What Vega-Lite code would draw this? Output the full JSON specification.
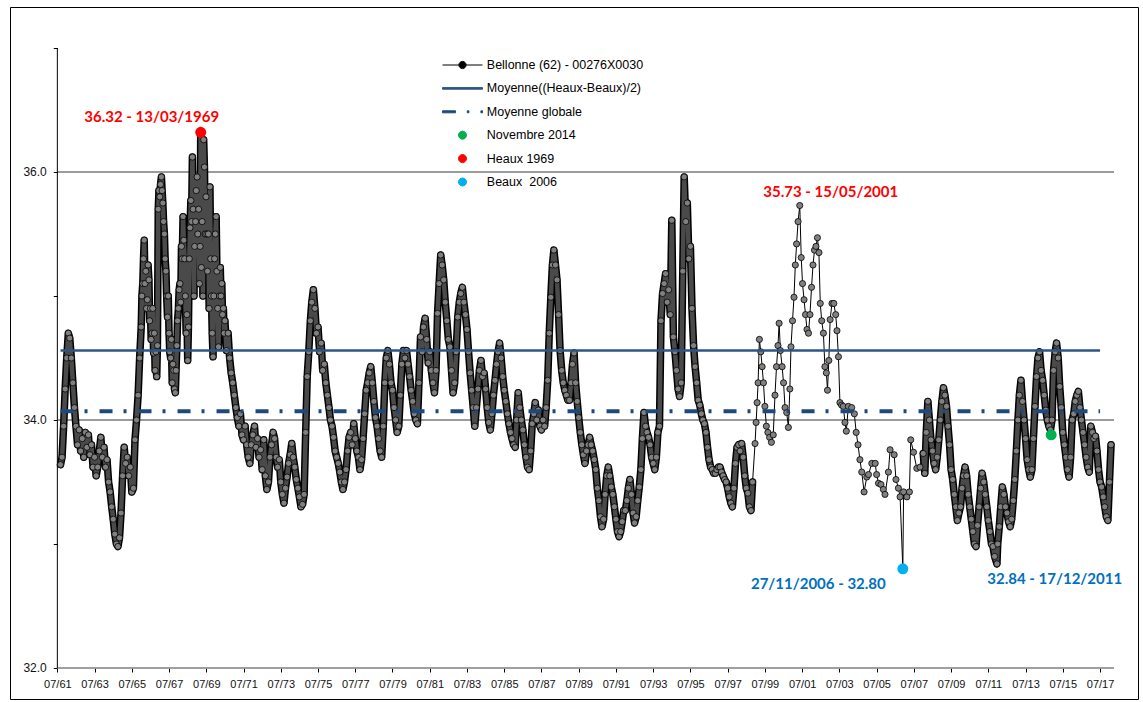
{
"$schema": "https://vega.github.io/schema/vega-lite/v6.json",
"width": 1128, "height": 692,
"autosize": {"type": "none"},
"padding": {"left": 10, "top": 7, "right": 5, "bottom": 3},
"background": "white",
"config": {"view": {"stroke": "#000000", "strokeWidth": 1}, "font": "Liberation Sans"},
"datasets": {
"series": [
{"d":"1961-09","v":33.64},{"d":"1961-10","v":33.70},{"d":"1961-11","v":33.95},{"d":"1961-12","v":34.25},
{"d":"1962-01","v":34.50},{"d":"1962-02","v":34.70},{"d":"1962-03","v":34.66},{"d":"1962-04","v":34.50},{"d":"1962-05","v":34.30},{"d":"1962-06","v":34.10},{"d":"1962-07","v":33.95},{"d":"1962-08","v":33.80},{"d":"1962-09","v":33.92},{"d":"1962-10","v":33.75},{"d":"1962-11","v":33.85},{"d":"1962-12","v":33.70},
{"d":"1963-01","v":33.90},{"d":"1963-02","v":33.78},{"d":"1963-03","v":33.88},{"d":"1963-04","v":33.72},{"d":"1963-05","v":33.80},{"d":"1963-06","v":33.62},{"d":"1963-07","v":33.70},{"d":"1963-08","v":33.55},{"d":"1963-09","v":33.62},{"d":"1963-10","v":33.75},{"d":"1963-11","v":33.86},{"d":"1963-12","v":33.70},
{"d":"1964-01","v":33.78},{"d":"1964-02","v":33.62},{"d":"1964-03","v":33.68},{"d":"1964-04","v":33.50},{"d":"1964-05","v":33.42},{"d":"1964-06","v":33.30},{"d":"1964-07","v":33.20},{"d":"1964-08","v":33.08},{"d":"1964-09","v":33.00},{"d":"1964-10","v":32.98},{"d":"1964-11","v":33.05},{"d":"1964-12","v":33.25},
{"d":"1965-01","v":33.55},{"d":"1965-02","v":33.78},{"d":"1965-03","v":33.65},{"d":"1965-04","v":33.70},{"d":"1965-05","v":33.55},{"d":"1965-06","v":33.62},{"d":"1965-07","v":33.42},{"d":"1965-08","v":33.45},{"d":"1965-09","v":33.84},{"d":"1965-10","v":34.00},{"d":"1965-11","v":34.20},{"d":"1965-12","v":34.50},
{"d":"1966-01-01","v":34.75},{"d":"1966-01-15","v":35.00},{"d":"1966-02-01","v":35.10},{"d":"1966-02-15","v":35.30},{"d":"1966-03-01","v":35.45},{"d":"1966-03-15","v":35.10},{"d":"1966-04-01","v":35.20},{"d":"1966-04-15","v":34.90},{"d":"1966-05-01","v":34.97},{"d":"1966-05-15","v":35.25},{"d":"1966-06-01","v":35.13},{"d":"1966-06-15","v":34.80},{"d":"1966-07-01","v":34.90},{"d":"1966-07-15","v":34.65},{"d":"1966-08-01","v":34.70},{"d":"1966-08-15","v":34.90},{"d":"1966-09-01","v":34.54},{"d":"1966-09-15","v":34.70},{"d":"1966-10-01","v":34.40},{"d":"1966-10-15","v":34.55},{"d":"1966-11-01","v":34.35},{"d":"1966-11-15","v":34.60},{"d":"1966-12-01","v":35.70},{"d":"1966-12-15","v":35.85},
{"d":"1967-01-01","v":35.80},{"d":"1967-01-15","v":35.90},{"d":"1967-02-01","v":35.96},{"d":"1967-02-15","v":35.85},{"d":"1967-03-01","v":35.75},{"d":"1967-03-15","v":35.60},{"d":"1967-04-01","v":35.50},{"d":"1967-04-15","v":35.30},{"d":"1967-05-01","v":35.20},{"d":"1967-05-15","v":35.00},{"d":"1967-06-01","v":34.83},{"d":"1967-06-15","v":35.00},{"d":"1967-07-01","v":34.70},{"d":"1967-07-15","v":34.55},{"d":"1967-08-01","v":34.50},{"d":"1967-08-15","v":34.65},{"d":"1967-09-01","v":34.30},{"d":"1967-09-15","v":34.45},{"d":"1967-10-01","v":34.40},{"d":"1967-10-15","v":34.25},{"d":"1967-11-01","v":34.22},{"d":"1967-11-15","v":34.40},{"d":"1967-12-01","v":34.60},{"d":"1967-12-15","v":34.80},
{"d":"1968-01-01","v":34.90},{"d":"1968-01-15","v":35.05},{"d":"1968-02-01","v":35.10},{"d":"1968-02-15","v":34.95},{"d":"1968-03-01","v":35.40},{"d":"1968-03-15","v":35.30},{"d":"1968-04-01","v":35.64},{"d":"1968-04-15","v":35.45},{"d":"1968-05-01","v":35.30},{"d":"1968-05-15","v":35.00},{"d":"1968-06-01","v":34.70},{"d":"1968-06-15","v":34.85},{"d":"1968-07-01","v":34.48},{"d":"1968-07-15","v":34.75},{"d":"1968-08-01","v":35.30},{"d":"1968-08-15","v":35.55},{"d":"1968-09-01","v":35.77},{"d":"1968-09-15","v":35.60},{"d":"1968-10-01","v":36.12},{"d":"1968-10-15","v":35.70},{"d":"1968-11-01","v":35.00},{"d":"1968-11-15","v":35.40},{"d":"1968-12-01","v":35.60},{"d":"1968-12-15","v":35.85},
{"d":"1969-01-01","v":35.96},{"d":"1969-01-15","v":35.50},{"d":"1969-02-01","v":35.70},{"d":"1969-02-15","v":35.10},{"d":"1969-03-01","v":35.40},{"d":"1969-03-13","v":36.32},{"d":"1969-03-25","v":35.23},{"d":"1969-04-10","v":35.60},{"d":"1969-04-25","v":35.00},{"d":"1969-05-10","v":36.26},{"d":"1969-05-25","v":36.04},{"d":"1969-06-10","v":35.50},{"d":"1969-06-25","v":35.80},{"d":"1969-07-10","v":35.50},{"d":"1969-07-25","v":35.20},{"d":"1969-08-10","v":35.50},{"d":"1969-08-25","v":34.90},{"d":"1969-09-10","v":35.88},{"d":"1969-09-25","v":35.30},{"d":"1969-10-10","v":35.00},{"d":"1969-10-25","v":34.70},{"d":"1969-11-10","v":34.51},{"d":"1969-11-25","v":35.00},{"d":"1969-12-10","v":35.30},{"d":"1969-12-25","v":35.50},
{"d":"1970-01-10","v":35.64},{"d":"1970-01-25","v":35.20},{"d":"1970-02-10","v":34.90},{"d":"1970-02-25","v":34.59},{"d":"1970-03-15","v":35.00},{"d":"1970-04-01","v":35.23},{"d":"1970-04-15","v":35.00},{"d":"1970-05-01","v":35.10},{"d":"1970-05-15","v":34.85},{"d":"1970-06-01","v":34.90},{"d":"1970-06-15","v":34.70},{"d":"1970-07-01","v":34.80},{"d":"1970-08-01","v":34.56},{"d":"1970-09-01","v":34.70},{"d":"1970-10-01","v":34.50},{"d":"1970-11-01","v":34.38},{"d":"1970-12-01","v":34.30},
{"d":"1971-01","v":34.20},{"d":"1971-02","v":34.10},{"d":"1971-03","v":34.02},{"d":"1971-04","v":33.95},{"d":"1971-05","v":34.05},{"d":"1971-06","v":33.88},{"d":"1971-07","v":33.84},{"d":"1971-08","v":33.95},{"d":"1971-09","v":33.80},{"d":"1971-10","v":33.70},{"d":"1971-11","v":33.65},{"d":"1971-12","v":33.80},
{"d":"1972-01","v":33.88},{"d":"1972-02","v":33.95},{"d":"1972-03","v":33.78},{"d":"1972-04","v":33.85},{"d":"1972-05","v":33.70},{"d":"1972-06","v":33.76},{"d":"1972-07","v":33.60},{"d":"1972-08","v":33.84},{"d":"1972-09","v":33.55},{"d":"1972-10","v":33.44},{"d":"1972-11","v":33.50},{"d":"1972-12","v":33.70},
{"d":"1973-01","v":33.80},{"d":"1973-02","v":33.90},{"d":"1973-03","v":33.85},{"d":"1973-04","v":33.70},{"d":"1973-05","v":33.62},{"d":"1973-06","v":33.68},{"d":"1973-07","v":33.50},{"d":"1973-08","v":33.40},{"d":"1973-09","v":33.33},{"d":"1973-10","v":33.45},{"d":"1973-11","v":33.54},{"d":"1973-12","v":33.65},
{"d":"1974-01","v":33.72},{"d":"1974-02","v":33.81},{"d":"1974-03","v":33.70},{"d":"1974-04","v":33.62},{"d":"1974-05","v":33.52},{"d":"1974-06","v":33.45},{"d":"1974-07","v":33.38},{"d":"1974-08","v":33.30},{"d":"1974-09","v":33.32},{"d":"1974-10","v":33.40},{"d":"1974-11","v":33.90},{"d":"1974-12","v":34.35},
{"d":"1975-01","v":34.55},{"d":"1975-02","v":34.80},{"d":"1975-03","v":34.95},{"d":"1975-04","v":35.05},{"d":"1975-05","v":34.90},{"d":"1975-06","v":34.70},{"d":"1975-07","v":34.75},{"d":"1975-08","v":34.55},{"d":"1975-09","v":34.62},{"d":"1975-10","v":34.40},{"d":"1975-11","v":34.45},{"d":"1975-12","v":34.30},
{"d":"1976-01","v":34.20},{"d":"1976-02","v":34.10},{"d":"1976-03","v":34.00},{"d":"1976-04","v":33.95},{"d":"1976-05","v":33.86},{"d":"1976-06","v":33.75},{"d":"1976-07","v":33.70},{"d":"1976-08","v":33.65},{"d":"1976-09","v":33.58},{"d":"1976-10","v":33.50},{"d":"1976-11","v":33.44},{"d":"1976-12","v":33.50},
{"d":"1977-01","v":33.60},{"d":"1977-02","v":33.75},{"d":"1977-03","v":33.86},{"d":"1977-04","v":33.90},{"d":"1977-05","v":33.80},{"d":"1977-06","v":33.97},{"d":"1977-07","v":33.85},{"d":"1977-08","v":33.75},{"d":"1977-09","v":33.70},{"d":"1977-10","v":33.60},{"d":"1977-11","v":33.68},{"d":"1977-12","v":33.85},
{"d":"1978-01","v":34.05},{"d":"1978-02","v":34.24},{"d":"1978-03","v":34.30},{"d":"1978-04","v":34.38},{"d":"1978-05","v":34.43},{"d":"1978-06","v":34.30},{"d":"1978-07","v":34.15},{"d":"1978-08","v":34.02},{"d":"1978-09","v":33.95},{"d":"1978-10","v":33.85},{"d":"1978-11","v":33.75},{"d":"1978-12","v":33.70},
{"d":"1979-01","v":33.95},{"d":"1979-02","v":34.30},{"d":"1979-03","v":34.50},{"d":"1979-04","v":34.56},{"d":"1979-05","v":34.45},{"d":"1979-06","v":34.30},{"d":"1979-07","v":34.24},{"d":"1979-08","v":34.10},{"d":"1979-09","v":34.00},{"d":"1979-10","v":33.90},{"d":"1979-11","v":33.95},{"d":"1979-12","v":34.20},
{"d":"1980-01","v":34.45},{"d":"1980-02","v":34.56},{"d":"1980-03","v":34.50},{"d":"1980-04","v":34.56},{"d":"1980-05","v":34.45},{"d":"1980-06","v":34.35},{"d":"1980-07","v":34.24},{"d":"1980-08","v":34.15},{"d":"1980-09","v":34.05},{"d":"1980-10","v":34.00},{"d":"1980-11","v":33.97},{"d":"1980-12","v":34.30},
{"d":"1981-01","v":34.67},{"d":"1981-02","v":34.55},{"d":"1981-03","v":34.75},{"d":"1981-04","v":34.82},{"d":"1981-05","v":34.65},{"d":"1981-06","v":34.46},{"d":"1981-07","v":34.55},{"d":"1981-08","v":34.40},{"d":"1981-09","v":34.30},{"d":"1981-10","v":34.22},{"d":"1981-11","v":34.40},{"d":"1981-12","v":34.86},
{"d":"1982-01","v":35.10},{"d":"1982-02","v":35.33},{"d":"1982-03","v":35.25},{"d":"1982-04","v":35.13},{"d":"1982-05","v":34.95},{"d":"1982-06","v":34.80},{"d":"1982-07","v":34.65},{"d":"1982-08","v":34.59},{"d":"1982-09","v":34.40},{"d":"1982-10","v":34.22},{"d":"1982-11","v":34.30},{"d":"1982-12","v":34.55},
{"d":"1983-01","v":34.83},{"d":"1983-02","v":34.95},{"d":"1983-03","v":35.02},{"d":"1983-04","v":35.07},{"d":"1983-05","v":34.95},{"d":"1983-06","v":34.85},{"d":"1983-07","v":34.73},{"d":"1983-08","v":34.55},{"d":"1983-09","v":34.38},{"d":"1983-10","v":34.24},{"d":"1983-11","v":34.10},{"d":"1983-12","v":33.95},
{"d":"1984-01","v":34.10},{"d":"1984-02","v":34.25},{"d":"1984-03","v":34.40},{"d":"1984-04","v":34.48},{"d":"1984-05","v":34.35},{"d":"1984-06","v":34.38},{"d":"1984-07","v":34.25},{"d":"1984-08","v":34.10},{"d":"1984-09","v":33.98},{"d":"1984-10","v":33.92},{"d":"1984-11","v":34.05},{"d":"1984-12","v":34.20},
{"d":"1985-01","v":34.32},{"d":"1985-02","v":34.45},{"d":"1985-03","v":34.55},{"d":"1985-04","v":34.62},{"d":"1985-05","v":34.50},{"d":"1985-06","v":34.35},{"d":"1985-07","v":34.24},{"d":"1985-08","v":34.15},{"d":"1985-09","v":34.05},{"d":"1985-10","v":33.97},{"d":"1985-11","v":33.90},{"d":"1985-12","v":33.85},
{"d":"1986-01","v":33.80},{"d":"1986-02","v":33.78},{"d":"1986-03","v":34.00},{"d":"1986-04","v":34.22},{"d":"1986-05","v":34.10},{"d":"1986-06","v":34.00},{"d":"1986-07","v":33.92},{"d":"1986-08","v":33.80},{"d":"1986-09","v":33.70},{"d":"1986-10","v":33.62},{"d":"1986-11","v":33.60},{"d":"1986-12","v":33.75},
{"d":"1987-01","v":33.97},{"d":"1987-02","v":34.05},{"d":"1987-03","v":34.14},{"d":"1987-04","v":34.00},{"d":"1987-05","v":34.08},{"d":"1987-06","v":33.95},{"d":"1987-07","v":33.92},{"d":"1987-08","v":34.00},{"d":"1987-09","v":33.95},{"d":"1987-10","v":34.10},{"d":"1987-11","v":34.32},{"d":"1987-12","v":34.70},
{"d":"1988-01","v":34.99},{"d":"1988-02","v":35.25},{"d":"1988-03","v":35.37},{"d":"1988-04","v":35.25},{"d":"1988-05","v":35.13},{"d":"1988-06","v":34.85},{"d":"1988-07","v":34.56},{"d":"1988-08","v":34.40},{"d":"1988-09","v":34.30},{"d":"1988-10","v":34.24},{"d":"1988-11","v":34.20},{"d":"1988-12","v":34.16},
{"d":"1989-01","v":34.16},{"d":"1989-02","v":34.30},{"d":"1989-03","v":34.45},{"d":"1989-04","v":34.54},{"d":"1989-05","v":34.30},{"d":"1989-06","v":34.15},{"d":"1989-07","v":34.02},{"d":"1989-08","v":33.90},{"d":"1989-09","v":33.80},{"d":"1989-10","v":33.72},{"d":"1989-11","v":33.65},{"d":"1989-12","v":33.75},
{"d":"1990-01","v":33.80},{"d":"1990-02","v":33.86},{"d":"1990-03","v":33.80},{"d":"1990-04","v":33.75},{"d":"1990-05","v":33.68},{"d":"1990-06","v":33.60},{"d":"1990-07","v":33.45},{"d":"1990-08","v":33.35},{"d":"1990-09","v":33.22},{"d":"1990-10","v":33.14},{"d":"1990-11","v":33.20},{"d":"1990-12","v":33.40},
{"d":"1991-01","v":33.55},{"d":"1991-02","v":33.62},{"d":"1991-03","v":33.55},{"d":"1991-04","v":33.46},{"d":"1991-05","v":33.40},{"d":"1991-06","v":33.30},{"d":"1991-07","v":33.20},{"d":"1991-08","v":33.10},{"d":"1991-09","v":33.06},{"d":"1991-10","v":33.10},{"d":"1991-11","v":33.18},{"d":"1991-12","v":33.27},
{"d":"1992-01","v":33.27},{"d":"1992-02","v":33.35},{"d":"1992-03","v":33.45},{"d":"1992-04","v":33.52},{"d":"1992-05","v":33.40},{"d":"1992-06","v":33.25},{"d":"1992-07","v":33.17},{"d":"1992-08","v":33.22},{"d":"1992-09","v":33.35},{"d":"1992-10","v":33.46},{"d":"1992-11","v":33.60},{"d":"1992-12","v":33.85},
{"d":"1993-01","v":34.06},{"d":"1993-02","v":33.95},{"d":"1993-03","v":33.90},{"d":"1993-04","v":33.86},{"d":"1993-05","v":33.80},{"d":"1993-06","v":33.70},{"d":"1993-07","v":33.65},{"d":"1993-08","v":33.60},{"d":"1993-09","v":33.70},{"d":"1993-10","v":33.90},{"d":"1993-11","v":33.95},{"d":"1993-12","v":34.80},
{"d":"1994-01","v":35.02},{"d":"1994-02","v":35.10},{"d":"1994-03","v":35.18},{"d":"1994-04","v":34.95},{"d":"1994-05","v":35.05},{"d":"1994-06","v":34.85},{"d":"1994-07","v":35.61},{"d":"1994-08","v":34.67},{"d":"1994-09","v":34.55},{"d":"1994-10","v":34.40},{"d":"1994-11","v":34.25},{"d":"1994-12","v":34.19},
{"d":"1995-01","v":34.30},{"d":"1995-02","v":35.20},{"d":"1995-03","v":35.96},{"d":"1995-04","v":35.60},{"d":"1995-05","v":35.75},{"d":"1995-06","v":35.30},{"d":"1995-07","v":35.40},{"d":"1995-08","v":34.90},{"d":"1995-09","v":34.60},{"d":"1995-10","v":34.43},{"d":"1995-11","v":34.30},{"d":"1995-12","v":34.16},
{"d":"1996-01","v":34.12},{"d":"1996-02","v":34.05},{"d":"1996-03","v":34.00},{"d":"1996-04","v":33.97},{"d":"1996-05","v":33.90},{"d":"1996-06","v":33.78},{"d":"1996-07","v":33.68},{"d":"1996-08","v":33.62},{"d":"1996-09","v":33.60},{"d":"1996-10","v":33.57},{"d":"1996-11","v":33.57},{"d":"1996-12","v":33.60},
{"d":"1997-01","v":33.62},{"d":"1997-02","v":33.62},{"d":"1997-03","v":33.58},{"d":"1997-04","v":33.55},{"d":"1997-05","v":33.52},{"d":"1997-06","v":33.50},{"d":"1997-07","v":33.45},{"d":"1997-08","v":33.38},{"d":"1997-09","v":33.33},{"d":"1997-10","v":33.30},{"d":"1997-11","v":33.45},{"d":"1997-12","v":33.65},
{"d":"1998-01","v":33.78},{"d":"1998-02","v":33.80},{"d":"1998-03","v":33.75},{"d":"1998-04","v":33.81},{"d":"1998-05","v":33.70},{"d":"1998-06","v":33.55},{"d":"1998-07","v":33.45},{"d":"1998-08","v":33.41},{"d":"1998-09","v":33.30},{"d":"1998-10","v":33.27},{"d":"1998-11","v":33.50},
{"d":"1998-12-20","v":33.81},{"d":"1999-01-10","v":33.98},{"d":"1999-01-30","v":34.14},{"d":"1999-02-18","v":34.30},{"d":"1999-03-15","v":34.65},{"d":"1999-04-12","v":34.55},{"d":"1999-05-08","v":34.43},{"d":"1999-06-03","v":34.30},{"d":"1999-07-01","v":34.11},{"d":"1999-07-30","v":33.95},{"d":"1999-08-28","v":33.90},{"d":"1999-10-01","v":33.86},{"d":"1999-11-06","v":33.82},{"d":"1999-12-12","v":33.88},
{"d":"2000-01-15","v":34.20},{"d":"2000-02-14","v":34.43},{"d":"2000-03-14","v":34.60},{"d":"2000-04-05","v":34.78},{"d":"2000-05-01","v":34.56},{"d":"2000-06-03","v":34.43},{"d":"2000-07-01","v":34.30},{"d":"2000-07-30","v":34.10},{"d":"2000-09-01","v":34.06},{"d":"2000-10-04","v":33.94},{"d":"2000-11-02","v":34.25},{"d":"2000-11-24","v":34.59},{"d":"2000-12-24","v":34.80},
{"d":"2001-01-22","v":34.99},{"d":"2001-02-17","v":35.25},{"d":"2001-03-14","v":35.42},{"d":"2001-04-12","v":35.60},{"d":"2001-05-15","v":35.73},{"d":"2001-06-13","v":35.31},{"d":"2001-07-08","v":35.10},{"d":"2001-08-07","v":34.97},{"d":"2001-09-05","v":34.85},{"d":"2001-10-04","v":34.73},{"d":"2001-11-02","v":34.70},{"d":"2001-12-01","v":34.85},
{"d":"2002-01-01","v":35.07},{"d":"2002-01-30","v":35.25},{"d":"2002-02-28","v":35.37},{"d":"2002-03-29","v":35.40},{"d":"2002-04-27","v":35.47},{"d":"2002-05-26","v":35.35},{"d":"2002-06-21","v":34.94},{"d":"2002-07-20","v":34.80},{"d":"2002-08-22","v":34.70},{"d":"2002-09-20","v":34.43},{"d":"2002-10-19","v":34.38},{"d":"2002-11-10","v":34.24},{"d":"2002-12-06","v":34.48},
{"d":"2003-01-01","v":34.81},{"d":"2003-02-06","v":34.94},{"d":"2003-03-14","v":34.94},{"d":"2003-04-20","v":34.85},{"d":"2003-05-15","v":34.72},{"d":"2003-06-13","v":34.51},{"d":"2003-07-12","v":34.14},{"d":"2003-08-14","v":34.12},{"d":"2003-09-16","v":34.11},{"d":"2003-10-19","v":33.98},{"d":"2003-11-14","v":33.91},{"d":"2003-12-24","v":34.11},
{"d":"2004-02-28","v":34.10},{"d":"2004-04-20","v":34.05},{"d":"2004-05-26","v":33.90},{"d":"2004-07-01","v":33.80},{"d":"2004-08-07","v":33.68},{"d":"2004-09-12","v":33.58},{"d":"2004-10-28","v":33.42},{"d":"2004-12-20","v":33.54},
{"d":"2005-01-22","v":33.56},{"d":"2005-03-28","v":33.65},{"d":"2005-06-03","v":33.65},{"d":"2005-07-01","v":33.56},{"d":"2005-08-07","v":33.49},{"d":"2005-09-24","v":33.48},{"d":"2005-11-10","v":33.44},{"d":"2005-12-12","v":33.40},
{"d":"2006-02-17","v":33.58},{"d":"2006-03-22","v":33.76},{"d":"2006-06-10","v":33.72},{"d":"2006-07-15","v":33.52},{"d":"2006-09-01","v":33.45},{"d":"2006-10-04","v":33.38},{"d":"2006-11-27","v":32.80},{"d":"2006-12-12","v":33.42},
{"d":"2007-02-14","v":33.38},{"d":"2007-04-05","v":33.42},{"d":"2007-05-01","v":33.84},{"d":"2007-06-24","v":33.74},{"d":"2007-08-28","v":33.61},{"d":"2007-10-30","v":33.62},
{"d":"2008-01","v":33.73},{"d":"2008-02","v":33.57},{"d":"2008-03","v":33.90},{"d":"2008-04","v":34.15},{"d":"2008-05","v":34.00},{"d":"2008-06","v":33.84},{"d":"2008-07","v":33.75},{"d":"2008-08","v":33.65},{"d":"2008-09","v":33.60},{"d":"2008-10","v":33.70},{"d":"2008-11","v":33.84},{"d":"2008-12","v":34.00},
{"d":"2009-01","v":34.15},{"d":"2009-02","v":34.26},{"d":"2009-03","v":34.20},{"d":"2009-04","v":34.11},{"d":"2009-05","v":33.95},{"d":"2009-06","v":33.80},{"d":"2009-07","v":33.60},{"d":"2009-08","v":33.52},{"d":"2009-09","v":33.40},{"d":"2009-10","v":33.30},{"d":"2009-11","v":33.19},{"d":"2009-12","v":33.25},
{"d":"2010-01","v":33.30},{"d":"2010-02","v":33.45},{"d":"2010-03","v":33.55},{"d":"2010-04","v":33.62},{"d":"2010-05","v":33.55},{"d":"2010-06","v":33.40},{"d":"2010-07","v":33.30},{"d":"2010-08","v":33.20},{"d":"2010-09","v":33.10},{"d":"2010-10","v":33.00},{"d":"2010-11","v":32.98},{"d":"2010-12","v":33.15},
{"d":"2011-01","v":33.30},{"d":"2011-02","v":33.45},{"d":"2011-03","v":33.57},{"d":"2011-04","v":33.50},{"d":"2011-05","v":33.40},{"d":"2011-06","v":33.30},{"d":"2011-07","v":33.19},{"d":"2011-08","v":33.10},{"d":"2011-09","v":33.00},{"d":"2011-10","v":32.98},{"d":"2011-11","v":32.90},{"d":"2011-12-17","v":32.84},
{"d":"2012-01","v":33.00},{"d":"2012-02","v":33.14},{"d":"2012-03","v":33.30},{"d":"2012-04","v":33.46},{"d":"2012-05","v":33.40},{"d":"2012-06","v":33.30},{"d":"2012-07","v":33.25},{"d":"2012-08","v":33.18},{"d":"2012-09","v":33.14},{"d":"2012-10","v":33.20},{"d":"2012-11","v":33.35},{"d":"2012-12","v":33.52},
{"d":"2013-01","v":33.75},{"d":"2013-02","v":34.00},{"d":"2013-03","v":34.20},{"d":"2013-04","v":34.32},{"d":"2013-05","v":34.15},{"d":"2013-06","v":34.00},{"d":"2013-07","v":33.85},{"d":"2013-08","v":33.68},{"d":"2013-09","v":33.60},{"d":"2013-10","v":33.54},{"d":"2013-11","v":33.60},{"d":"2013-12","v":33.85},
{"d":"2014-01","v":34.11},{"d":"2014-02","v":34.35},{"d":"2014-03","v":34.50},{"d":"2014-04","v":34.55},{"d":"2014-05","v":34.40},{"d":"2014-06","v":34.32},{"d":"2014-07","v":34.20},{"d":"2014-08","v":34.08},{"d":"2014-09","v":34.00},{"d":"2014-10","v":33.95},{"d":"2014-11","v":33.92},{"d":"2014-12","v":34.00},
{"d":"2015-01","v":34.40},{"d":"2015-02","v":34.55},{"d":"2015-03","v":34.62},{"d":"2015-04","v":34.50},{"d":"2015-05","v":34.27},{"d":"2015-06","v":34.10},{"d":"2015-07","v":33.90},{"d":"2015-08","v":33.80},{"d":"2015-09","v":33.70},{"d":"2015-10","v":33.60},{"d":"2015-11","v":33.54},{"d":"2015-12","v":33.70},
{"d":"2016-01","v":34.00},{"d":"2016-02","v":34.05},{"d":"2016-03","v":34.15},{"d":"2016-04","v":34.20},{"d":"2016-05","v":34.23},{"d":"2016-06","v":34.10},{"d":"2016-07","v":34.00},{"d":"2016-08","v":33.90},{"d":"2016-09","v":33.80},{"d":"2016-10","v":33.70},{"d":"2016-11","v":33.62},{"d":"2016-12","v":33.58},
{"d":"2017-01","v":33.95},{"d":"2017-02","v":33.90},{"d":"2017-03","v":33.85},{"d":"2017-04","v":33.87},{"d":"2017-05","v":33.75},{"d":"2017-06","v":33.60},{"d":"2017-07","v":33.50},{"d":"2017-08","v":33.46},{"d":"2017-09","v":33.38},{"d":"2017-10","v":33.30},{"d":"2017-11","v":33.22},{"d":"2017-12","v":33.19},
{"d":"2018-01","v":33.50},{"d":"2018-02","v":33.80}
],
"pts": [
{"d":"2014-11-15","v":33.88,"s":"Novembre 2014"},
{"d":"1969-03-13","v":36.32,"s":"Heaux 1969"},
{"d":"2006-11-27","v":32.80,"s":"Beaux  2006"}
]
},
"layer": [
{
"data": {"values": [{"g": 34}, {"g": 36}]},
"mark": {"type": "rule", "color": "#7a7a7a", "strokeWidth": 1.5},
"encoding": {
"y": {"field": "g", "type": "quantitative"},
"x": {"datum": {"year": 1961, "month": 7, "date": 1}, "type": "temporal"},
"x2": {"datum": {"year": 2018, "month": 4, "date": 1}}
}
},
{
"data": {"values": [{"g": 32}]},
"mark": {"type": "rule", "color": "#808080", "strokeWidth": 1.5},
"encoding": {
"y": {"field": "g", "type": "quantitative"},
"x": {"datum": {"year": 1961, "month": 7, "date": 1}, "type": "temporal"},
"x2": {"datum": {"year": 2018, "month": 4, "date": 1}}
}
},
{
"data": {"values": [{"g": 32, "g2": 37}]},
"mark": {"type": "rule", "color": "#000000", "strokeWidth": 1},
"encoding": {
"y": {"field": "g", "type": "quantitative"},
"y2": {"field": "g2"},
"x": {"datum": {"year": 1961, "month": 7, "date": 1}, "type": "temporal"}
}
},
{
"data": {"name": "series"},
"mark": {"type": "line", "color": "#000000", "strokeWidth": 1},
"encoding": {
"x": {"field": "d", "type": "temporal",
"scale": {"domain": [{"year": 1958, "month": 12, "date": 15}, {"year": 2019, "month": 7, "date": 15}], "nice": false},
"axis": {"orient": "bottom", "offset": -31, "domain": false, "grid": false, "title": null,
"values": [{"year":1961,"month":7,"date":1},{"year":1962,"month":7,"date":1},{"year":1963,"month":7,"date":1},{"year":1964,"month":7,"date":1},{"year":1965,"month":7,"date":1},{"year":1966,"month":7,"date":1},{"year":1967,"month":7,"date":1},{"year":1968,"month":7,"date":1},{"year":1969,"month":7,"date":1},{"year":1970,"month":7,"date":1},{"year":1971,"month":7,"date":1},{"year":1972,"month":7,"date":1},{"year":1973,"month":7,"date":1},{"year":1974,"month":7,"date":1},{"year":1975,"month":7,"date":1},{"year":1976,"month":7,"date":1},{"year":1977,"month":7,"date":1},{"year":1978,"month":7,"date":1},{"year":1979,"month":7,"date":1},{"year":1980,"month":7,"date":1},{"year":1981,"month":7,"date":1},{"year":1982,"month":7,"date":1},{"year":1983,"month":7,"date":1},{"year":1984,"month":7,"date":1},{"year":1985,"month":7,"date":1},{"year":1986,"month":7,"date":1},{"year":1987,"month":7,"date":1},{"year":1988,"month":7,"date":1},{"year":1989,"month":7,"date":1},{"year":1990,"month":7,"date":1},{"year":1991,"month":7,"date":1},{"year":1992,"month":7,"date":1},{"year":1993,"month":7,"date":1},{"year":1994,"month":7,"date":1},{"year":1995,"month":7,"date":1},{"year":1996,"month":7,"date":1},{"year":1997,"month":7,"date":1},{"year":1998,"month":7,"date":1},{"year":1999,"month":7,"date":1},{"year":2000,"month":7,"date":1},{"year":2001,"month":7,"date":1},{"year":2002,"month":7,"date":1},{"year":2003,"month":7,"date":1},{"year":2004,"month":7,"date":1},{"year":2005,"month":7,"date":1},{"year":2006,"month":7,"date":1},{"year":2007,"month":7,"date":1},{"year":2008,"month":7,"date":1},{"year":2009,"month":7,"date":1},{"year":2010,"month":7,"date":1},{"year":2011,"month":7,"date":1},{"year":2012,"month":7,"date":1},{"year":2013,"month":7,"date":1},{"year":2014,"month":7,"date":1},{"year":2015,"month":7,"date":1},{"year":2016,"month":7,"date":1},{"year":2017,"month":7,"date":1}],
"format": "%m/%y",
"labelExpr": "year(datum.value) % 2 == 1 ? datum.label : ''",
"labelFont": "Liberation Sans", "labelFontSize": 11, "labelColor": "#111111",
"labelOverlap": false, "labelFlush": false, "labelBound": false,
"tickColor": "#000000", "tickSize": 4, "tickWidth": 1, "labelPadding": 6.5}
},
"y": {"field": "v", "type": "quantitative",
"scale": {"domain": [31.75, 37.3306], "nice": false, "zero": false},
"axis": {"orient": "left", "offset": -47.3, "domain": false, "grid": false, "title": null,
"values": [32, 33, 34, 35, 36, 37],
"labelExpr": "datum.value % 2 == 0 ? format(datum.value, '.1f') : ''",
"labelFont": "Liberation Sans", "labelFontSize": 12, "labelColor": "#111111",
"labelOverlap": false, "labelFlush": false, "labelBound": false,
"tickColor": "#000000", "tickSize": 4, "tickWidth": 1, "labelPadding": 7}
}
}
},
{
"data": {"name": "series"},
"transform": [{"filter": "toDate(datum.d) < toDate('1998-12-01')"}],
"mark": {"type": "line", "color": "#000000", "strokeWidth": 7.5, "strokeJoin": "round", "strokeCap": "round"},
"encoding": {"x": {"field": "d", "type": "temporal"}, "y": {"field": "v", "type": "quantitative"}}
},
{
"data": {"name": "series"},
"transform": [{"filter": "toDate(datum.d) >= toDate('2007-12-15')"}],
"mark": {"type": "line", "color": "#000000", "strokeWidth": 7.5, "strokeJoin": "round", "strokeCap": "round"},
"encoding": {"x": {"field": "d", "type": "temporal"}, "y": {"field": "v", "type": "quantitative"}}
},
{
"data": {"name": "series"},
"transform": [{"filter": "toDate(datum.d) < toDate('1998-12-01')"}],
"mark": {"type": "line", "color": "#4a4a4a", "strokeWidth": 4.5, "strokeJoin": "round", "strokeCap": "round"},
"encoding": {"x": {"field": "d", "type": "temporal"}, "y": {"field": "v", "type": "quantitative"}}
},
{
"data": {"name": "series"},
"transform": [{"filter": "toDate(datum.d) >= toDate('2007-12-15')"}],
"mark": {"type": "line", "color": "#4a4a4a", "strokeWidth": 4.5, "strokeJoin": "round", "strokeCap": "round"},
"encoding": {"x": {"field": "d", "type": "temporal"}, "y": {"field": "v", "type": "quantitative"}}
},
{
"data": {"name": "series"},
"mark": {"type": "point", "shape": "circle", "filled": true, "fill": "#808080", "stroke": "#000000", "strokeWidth": 0.8, "size": 38, "opacity": 1},
"encoding": {"x": {"field": "d", "type": "temporal"}, "y": {"field": "v", "type": "quantitative"}}
},
{
"data": {"values": [{"m": 34.56}]},
"mark": {"type": "rule", "color": "#2E5488", "strokeWidth": 2.5},
"encoding": {
"y": {"field": "m", "type": "quantitative"},
"x": {"datum": {"year": 1961, "month": 9, "date": 1}, "type": "temporal"},
"x2": {"datum": {"year": 2017, "month": 7, "date": 1}}
}
},
{
"data": {"values": [{"m": 34.07}]},
"mark": {"type": "rule", "color": "#1F497D", "strokeWidth": 4, "strokeDash": [13, 11, 3, 12]},
"encoding": {
"y": {"field": "m", "type": "quantitative"},
"x": {"datum": {"year": 1961, "month": 9, "date": 1}, "type": "temporal"},
"x2": {"datum": {"year": 2017, "month": 7, "date": 1}}
}
},
{
"data": {"name": "pts"},
"mark": {"type": "point", "shape": "circle", "filled": true, "size": 120, "opacity": 1},
"encoding": {
"x": {"field": "d", "type": "temporal"},
"y": {"field": "v", "type": "quantitative"},
"color": {"field": "s", "type": "nominal",
"scale": {"domain": ["Bellonne (62) - 00276X0030", "Moyenne((Heaux-Beaux)/2)", "Moyenne globale", "Novembre 2014", "Heaux 1969", "Beaux  2006"],
"range": ["#000000", "#2E5488", "#1F497D", "#00B050", "#FF0000", "#00B0F0"]},
"legend": {"title": null, "orient": "none", "legendX": 444, "legendY": 49.5, "padding": 0,
"direction": "vertical", "columns": 1,
"symbolSize": 256, "symbolStrokeWidth": 1, "symbolOpacity": 1,
"labelFont": "Liberation Sans", "labelFontSize": 12.5, "labelColor": "#000000", "labelLimit": 400,
"labelOffset": 15.8, "rowPadding": 8.4,
"labelExpr": "replace(datum.label, 'Beaux  ', 'Beaux \u00a0')",
"encode": {"symbols": {"update": {
"size": {"value": 256},
"opacity": {"value": 1},
"strokeWidth": {"value": 1},
"shape": {"signal": "['M-2.5,0H2.5M0.45,0A0.45,0.45,0,1,1,-0.45,0A0.45,0.45,0,1,1,0.45,0Z','M-2.5,-0.1H2.5V0.1H-2.5Z','M-2.5,-0.125H-0.875V0.125H-2.5ZM0.6,-0.125H0.8V0.125H0.6ZM2.3,-0.125H2.5V0.125H2.3Z','M0.5,0A0.5,0.5,0,1,1,-0.5,0A0.5,0.5,0,1,1,0.5,0Z','M0.5,0A0.5,0.5,0,1,1,-0.5,0A0.5,0.5,0,1,1,0.5,0Z','M0.5,0A0.5,0.5,0,1,1,-0.5,0A0.5,0.5,0,1,1,0.5,0Z'][datum.index]"},
"fill": {"signal": "['#808080','#2E5488','#1F497D','#00B050','#FF0000','#00B0F0'][datum.index]"},
"stroke": {"signal": "['#000000','#2E5488','#1F497D','#00B050','#FF0000','#00B0F0'][datum.index]"}
}}}
}
}
}
},
{
"data": {"values": [{"d": "1969-03-13", "v": 36.32, "t": "36.32 - 13/03/1969"}]},
"mark": {"type": "text", "font": "Lato", "fontWeight": "bold", "fontSize": 15, "color": "#FF0000", "align": "center", "baseline": "alphabetic", "dx": -49, "dy": -10.6},
"encoding": {"x": {"field": "d", "type": "temporal"}, "y": {"field": "v", "type": "quantitative"}, "text": {"field": "t"}}
},
{
"data": {"values": [{"d": "2001-05-15", "v": 35.73, "t": "35.73 - 15/05/2001"}]},
"mark": {"type": "text", "font": "Lato", "fontWeight": "bold", "fontSize": 15, "color": "#FF0000", "align": "center", "baseline": "alphabetic", "dx": 31, "dy": -8.8},
"encoding": {"x": {"field": "d", "type": "temporal"}, "y": {"field": "v", "type": "quantitative"}, "text": {"field": "t"}}
},
{
"data": {"values": [{"d": "2006-11-27", "v": 32.80, "t": "27/11/2006 - 32.80"}]},
"mark": {"type": "text", "font": "Lato", "fontWeight": "bold", "fontSize": 15, "color": "#0070C0", "align": "center", "baseline": "alphabetic", "dx": -84.5, "dy": 20.7},
"encoding": {"x": {"field": "d", "type": "temporal"}, "y": {"field": "v", "type": "quantitative"}, "text": {"field": "t"}}
},
{
"data": {"values": [{"d": "2011-12-17", "v": 32.84, "t": "32.84 - 17/12/2011"}]},
"mark": {"type": "text", "font": "Lato", "fontWeight": "bold", "fontSize": 15, "color": "#0070C0", "align": "center", "baseline": "alphabetic", "dx": 57.8, "dy": 20.5},
"encoding": {"x": {"field": "d", "type": "temporal"}, "y": {"field": "v", "type": "quantitative"}, "text": {"field": "t"}}
}
]
}
